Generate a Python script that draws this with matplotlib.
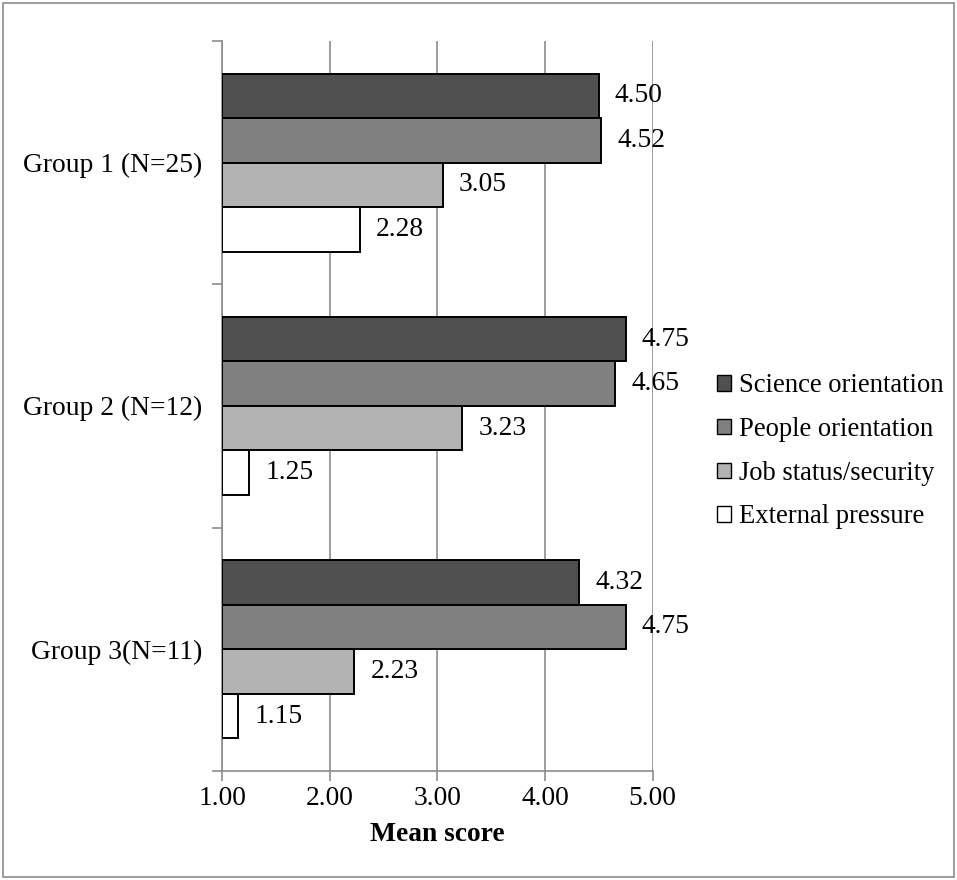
import numpy as np
import matplotlib
matplotlib.use("Agg")
import matplotlib.pyplot as plt
from matplotlib.patches import Rectangle

plt.rcParams['font.family'] = ['Liberation Serif', 'DejaVu Serif']

groups = ["Group 1 (N=25)", "Group 2 (N=12)", "Group 3(N=11)"]
series = ["Science orientation", "People orientation", "Job status/security", "External pressure"]
science = [4.50, 4.75, 4.32]
people = [4.52, 4.65, 4.75]
job = [3.05, 3.23, 2.23]
external = [2.28, 1.25, 1.15]
colors = ["#505050", "#808080", "#b3b3b3", "#ffffff"]
xticks = [1.0, 2.0, 3.0, 4.0, 5.0]

fs = 19.8
grid_col = "#8c8c8c"

fig = plt.figure(figsize=(9.57, 8.80), dpi=100)
ax = fig.add_axes([0.232, 0.124, 0.450, 0.8295])

y = np.arange(len(groups))
h = 0.183
values = [science, people, job, external]
for i, (vals, col, name) in enumerate(zip(values, colors, series)):
    pos = y + (i - 1.5) * h
    widths = np.array(vals) - 1.0
    ax.barh(pos, widths, left=1.0, height=h, color=col, edgecolor="black",
            linewidth=1.4, label=name, zorder=3)
    for p, v in zip(pos, vals):
        ax.text(v + 0.15, p, "%.2f" % v, va="center", ha="left", fontsize=fs, zorder=4)

ax.set_xlim(1.0, 5.0)
ax.set_ylim(2.5, -0.5)
ax.set_xticks(xticks)
ax.set_xticklabels(["%.2f" % t for t in xticks], fontsize=fs)
ax.set_yticks([-0.5, 0.5, 1.5, 2.5])
ax.set_yticklabels([])
ax.set_yticks(y, minor=True)
ax.set_yticklabels(groups, minor=True, fontsize=fs)
ax.tick_params(axis="y", which="major", length=7, color=grid_col, width=1.2)
ax.tick_params(axis="y", which="minor", length=0, pad=14)
ax.tick_params(axis="x", length=7, color=grid_col, width=1.2, pad=4)
ax.grid(axis="x", color=grid_col, linewidth=1.2, zorder=0)
ax.set_axisbelow(True)
for s in ["top", "right"]:
    ax.spines[s].set_visible(False)
for s in ["left", "bottom"]:
    ax.spines[s].set_color(grid_col)
    ax.spines[s].set_linewidth(1.2)
ax.set_xlabel("Mean score", fontsize=fs, fontweight="bold", labelpad=8)

leg = fig.legend(loc="center left", bbox_to_anchor=(0.738, 0.487), frameon=False,
                 fontsize=19.2, handlelength=0.52, handleheight=0.52,
                 handletextpad=0.3, labelspacing=0.7, borderaxespad=0)
for hd in leg.legend_handles:
    hd.set_linewidth(1.0)

fig.patches.append(Rectangle((0.003, 0.003), 0.994, 0.994, transform=fig.transFigure,
                             fill=False, edgecolor="#8c8c8c", linewidth=1.2))

fig.savefig("out.png", dpi=100)
